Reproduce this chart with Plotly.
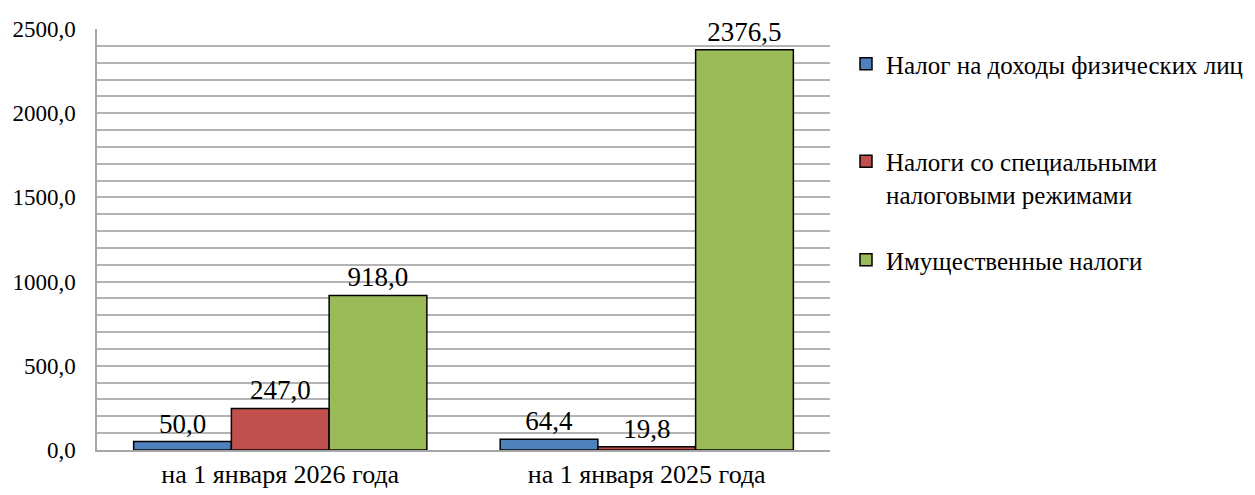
import plotly.graph_objects as go

categories = ["на 1 января 2026 года", "на 1 января 2025 года"]
ndfl = [50.0, 64.4]
special = [247.0, 19.8]
property_tax = [918.0, 2376.5]
series_names = [
    "Налог на доходы физических лиц",
    "Налоги со специальными<br>налоговыми режимами",
    "Имущественные налоги",
]
colors = ["#4F81BD", "#C0504D", "#9BBB59"]
tick_vals = [0, 500, 1000, 1500, 2000, 2500]

FONT = "Liberation Serif, Times New Roman, serif"
W, H = 1247, 487
L, R, T, B = 89, 425, 21, 45

legend_ids = ["legend", "legend2", "legend3"]
legend_centers = [56, 169.5, 252]  # figure pixel rows of legend item centres

fig = go.Figure()
for vals, name, col, lg in zip([ndfl, special, property_tax], series_names, colors, legend_ids):
    fig.add_trace(go.Bar(
        x=categories, y=vals, name=name,
        marker=dict(color=col, line=dict(color="black", width=1.5)),
        texttemplate="%{y:.1f}", textposition="outside",
        textfont=dict(family=FONT, size=27, color="black"),
        cliponaxis=False, constraintext="none",
        legend=lg, showlegend=True,
    ))

legend_layout = {}
for lg, cy in zip(legend_ids, legend_centers):
    legend_layout[lg] = dict(
        x=838 / W, y=1 - cy / H, xref="container", yref="container",
        xanchor="left", yanchor="middle", bgcolor="rgba(0,0,0,0)",
        font=dict(family=FONT, size=25, color="black"), valign="top",
        visible=True,
    )

fig.update_layout(
    width=W, height=H,
    showlegend=True,
    margin=dict(l=L, r=R, t=T, b=B, pad=0, autoexpand=False),
    plot_bgcolor="white", paper_bgcolor="white",
    separators=", ",
    barmode="group", bargap=0.2, bargroupgap=0,
    font=dict(family=FONT, size=23, color="black"),
    xaxis=dict(showline=True, linecolor="#a6a6a6", linewidth=1.5,
               tickfont=dict(family=FONT, size=26, color="black"),
               ticks=""),
    yaxis=dict(range=[0, 2500], tickvals=tick_vals, tickformat=".1f",
               showline=True, linecolor="#a6a6a6", linewidth=1.5,
               showgrid=True, gridcolor="#b3b3b3", gridwidth=1.5,
               minor=dict(dtick=100, showgrid=True, gridcolor="#b3b3b3", gridwidth=1.5),
               tickfont=dict(family=FONT, size=23, color="black"),
               ticks="", zeroline=False, ticklabelstandoff=15),
    **legend_layout,
)

fig.write_html("out.html")
